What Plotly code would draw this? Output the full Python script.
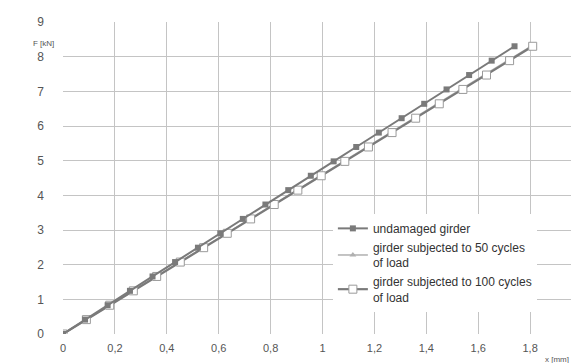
import plotly.graph_objects as go

# Data
force_kN = [0, 0.415, 0.83, 1.245, 1.66, 2.075, 2.49, 2.905, 3.32, 3.735, 4.15,
            4.565, 4.98, 5.395, 5.81, 6.225, 6.64, 7.055, 7.47, 7.885, 8.3]
x_undamaged = [0, 0.085, 0.172, 0.258, 0.345, 0.432, 0.52, 0.606, 0.693, 0.78, 0.868,
               0.955, 1.043, 1.13, 1.217, 1.305, 1.392, 1.478, 1.565, 1.652, 1.74]
x_50cycles = [0, 0.089, 0.179, 0.269, 0.359, 0.449, 0.539, 0.63, 0.72, 0.81, 0.9,
              0.99, 1.08, 1.171, 1.262, 1.352, 1.443, 1.534, 1.625, 1.714, 1.803]
x_100cycles = [0, 0.09, 0.18, 0.271, 0.361, 0.452, 0.542, 0.633, 0.723, 0.814, 0.905,
               0.995, 1.086, 1.177, 1.268, 1.359, 1.45, 1.541, 1.632, 1.721, 1.81]

names = ["undamaged girder",
         "girder subjected to 50 cycles<br>of load",
         "girder subjected to 100 cycles<br>of load"]
x_ticks = [0, 0.2, 0.4, 0.6, 0.8, 1, 1.2, 1.4, 1.6, 1.8, 2]
y_ticks = [0, 1, 2, 3, 4, 5, 6, 7, 8, 9]

fig = go.Figure()
fig.add_trace(go.Scatter(
    x=x_50cycles, y=force_kN, name=names[1], mode="lines+markers", legendrank=2,
    line=dict(color="#b0b0b0", width=1.5),
    marker=dict(symbol="triangle-up", size=6, color="#b0b0b0")))
fig.add_trace(go.Scatter(
    x=x_100cycles, y=force_kN, name=names[2], mode="lines+markers", legendrank=3,
    line=dict(color="#7a7a7a", width=2.2),
    marker=dict(symbol="square", size=8, color="white",
                line=dict(color="#9a9a9a", width=1))))
fig.add_trace(go.Scatter(
    x=x_undamaged, y=force_kN, name=names[0], mode="lines+markers", legendrank=1,
    line=dict(color="#7a7a7a", width=2),
    marker=dict(symbol="square", size=6, color="#7a7a7a")))

fig.update_layout(
    width=579, height=363,
    margin=dict(l=55, r=2, t=14, b=37),
    paper_bgcolor="white", plot_bgcolor="white",
    separators=", ",
    font=dict(family="Liberation Sans, Arial, sans-serif", color="#555555", size=11),
    showlegend=True,
    legend=dict(x=0.52, y=0.385, xanchor="left", yanchor="top",
                bgcolor="white",
                font=dict(size=12, color="#333333"),
                itemwidth=30),
    xaxis=dict(range=[0, 2], tickvals=x_ticks, showgrid=True,
               gridcolor="#c4c4c4", gridwidth=1, zeroline=False,
               showline=False, ticks="", ticklabelstandoff=6,
               ticklabeloverflow="allow"),
    yaxis=dict(range=[0, 9], tickvals=y_ticks, showgrid=True,
               gridcolor="#c4c4c4", gridwidth=1, zeroline=False,
               showline=False, ticks="", ticklabelstandoff=18,
               tickfont=dict(size=12)),
    annotations=[
        dict(text="F [kN]", xref="paper", yref="paper", x=-0.013, y=0.93,
             xanchor="right", yanchor="middle", showarrow=False,
             font=dict(size=8, color="#555555")),
        dict(text="x [mm]", xref="paper", yref="paper", x=0.952, y=-0.083,
             xanchor="center", yanchor="middle", showarrow=False,
             font=dict(size=8, color="#555555")),
    ],
)

fig.write_html("out.html")
